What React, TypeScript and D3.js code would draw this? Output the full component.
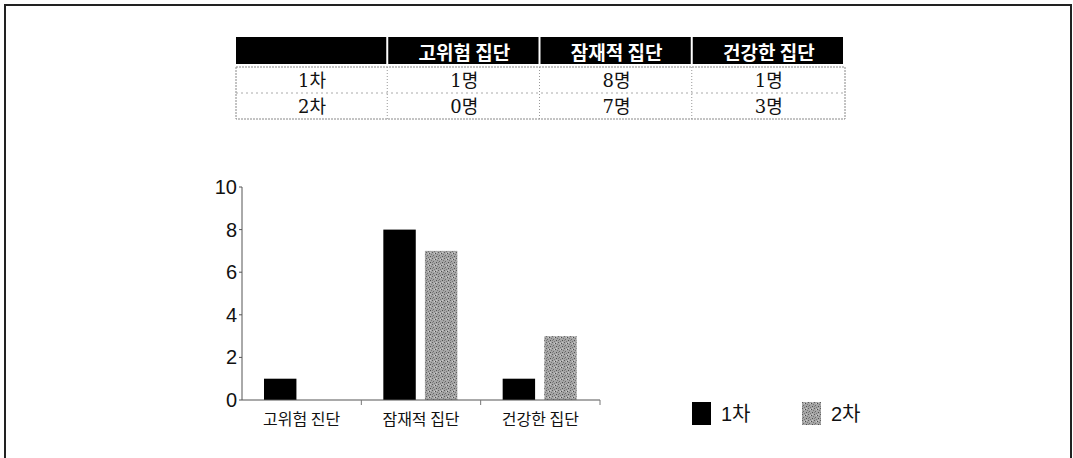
import * as d3 from "d3";

const WIDTH = 1073;
const HEIGHT = 458;

// table
const rowLabels = ["1차", "2차"];
const tableHeaders = ["고위험 집단", "잠재적 집단", "건강한 집단"];
const tableRow1 = ["1명", "8명", "1명"];
const tableRow2 = ["0명", "7명", "3명"];

// chart
const chartCategories = ["고위험 진단", "잠재적 집단", "건강한 집단"];
const seriesNames = ["1차", "2차"];
const round1 = [1, 8, 1];
const round2 = [0, 7, 3];
const yTicks = [0, 2, 4, 6, 8, 10];

const SANS = "'Noto Sans CJK KR', 'Noto Sans', sans-serif";
const NARROW = "'Liberation Sans Narrow', 'Liberation Sans', 'Noto Sans CJK KR', sans-serif";
const SERIF = "'DejaVu Serif', 'Liberation Serif', 'Noto Sans CJK KR', serif";

function Table() {
  const cols = d3.scaleBand<string>().domain(["", ...tableHeaders]).range([236, 845]);
  const rows = d3.scaleBand<string>().domain(rowLabels).range([67, 119]);
  const bodyRows = [
    [rowLabels[0], ...tableRow1],
    [rowLabels[1], ...tableRow2],
  ];
  const allCols = cols.domain();

  return (
    <g>
      {allCols.map((c) => (
        <g key={"h" + c}>
          <rect x={cols(c)!} y={37} width={cols.bandwidth() - 2} height={27} fill="#000" />
          <text
            x={cols(c)! + cols.bandwidth() / 2}
            y={51}
            fill="#fff"
            fontFamily={SANS}
            fontWeight="bold"
            fontSize={19}
            textAnchor="middle"
            dominantBaseline="central"
          >
            {c}
          </text>
        </g>
      ))}
      <rect x={236} y={67} width={609} height={52} fill="none" stroke="#888" strokeWidth={1} strokeDasharray="2,1" />
      <line x1={236} x2={845} y1={93} y2={93} stroke="#aaa" strokeDasharray="2,3" />
      {allCols.slice(1).map((c) => (
        <line key={"v" + c} x1={cols(c)! - 1} x2={cols(c)! - 1} y1={67} y2={119} stroke="#999" strokeDasharray="1,2" />
      ))}
      {bodyRows.map((r, ri) =>
        r.map((v, ci) => (
          <text
            key={ri + "-" + ci}
            x={cols(allCols[ci])! + cols.bandwidth() / 2}
            y={rows(rowLabels[ri])! + rows.bandwidth() / 2}
            fontFamily={SERIF}
            fontSize={18}
            textAnchor="middle"
            dominantBaseline="central"
            fill="#111"
          >
            {v}
          </text>
        ))
      )}
    </g>
  );
}

function BarChart() {
  const x = d3.scaleBand<string>().domain(chartCategories).range([242, 600]);
  const x1 = d3.scaleBand<string>().domain(seriesNames).range([22, 96]).paddingInner(0.22);
  const y = d3.scaleLinear().domain([0, 10]).range([400, 187]);
  const values = [round1, round2];
  const fills = ["#000", "url(#stipple)"];
  const [x0, xEnd] = x.range();

  return (
    <g>
      <defs>
        <pattern id="stipple" width={6} height={6} patternUnits="userSpaceOnUse">
          <rect width={6} height={6} fill="#a6a6a6" />
          <rect x={0} y={0} width={1} height={1} fill="#5e5e5e" />
          <rect x={3} y={1} width={1} height={1} fill="#4a4a4a" />
          <rect x={1} y={3} width={1} height={1} fill="#6a6a6a" />
          <rect x={4} y={4} width={1} height={1} fill="#505050" />
          <rect x={2} y={5} width={1} height={1} fill="#777" />
          <rect x={5} y={2} width={1} height={1} fill="#777" />
          <rect x={0} y={4} width={1} height={1} fill="#808080" />
          <rect x={2} y={1} width={1} height={1} fill="#d0d0d0" />
          <rect x={4} y={0} width={1} height={1} fill="#c8c8c8" />
        </pattern>
      </defs>

      {/* bars */}
      {chartCategories.map((cat, ci) =>
        seriesNames.map((s, si) => {
          const v = values[si][ci];
          if (v <= 0) return null;
          return (
            <rect
              key={cat + s}
              x={x(cat)! + x1(s)!}
              y={y(v)}
              width={x1.bandwidth()}
              height={y(0) - y(v)}
              fill={fills[si]}
            />
          );
        })
      )}

      {/* y axis */}
      <line x1={x0} x2={x0} y1={y(10)} y2={y(0)} stroke="#555" strokeWidth={1} />
      {yTicks.map((t) => (
        <g key={t}>
          <line x1={x0 - 3} x2={x0} y1={y(t)} y2={y(t)} stroke="#555" />
          <text
            x={x0 - 5}
            y={y(t)}
            fontFamily={NARROW}
            fontSize={20}
            textAnchor="end"
            dominantBaseline="central"
            fill="#111"
          >
            {t}
          </text>
        </g>
      ))}

      {/* x axis */}
      <line x1={x0} x2={xEnd} y1={y(0)} y2={y(0)} stroke="#555" strokeWidth={1} />
      {chartCategories.slice(1).map((cat) => (
        <line key={"t" + cat} x1={x(cat)!} x2={x(cat)!} y1={y(0)} y2={y(0) + 5} stroke="#777" />
      ))}
      <line x1={xEnd} x2={xEnd} y1={y(0)} y2={y(0) + 5} stroke="#777" />
      {chartCategories.map((cat) => (
        <text
          key={"l" + cat}
          x={x(cat)! + x.bandwidth() / 2}
          y={y(0) + 18}
          fontFamily={SANS}
          fontSize={16}
          textAnchor="middle"
          dominantBaseline="central"
          fill="#111"
        >
          {cat}
        </text>
      ))}

      {/* legend */}
      {seriesNames.map((s, i) => (
        <g key={"lg" + s} transform={`translate(${692 + i * 110}, 402)`}>
          <rect width={19} height={23} fill={fills[i]} />
          <text
            x={29}
            y={12}
            fontFamily={NARROW}
            fontSize={20}
            dominantBaseline="central"
            fill="#111"
          >
            {s}
          </text>
        </g>
      ))}
    </g>
  );
}

export default function App() {
  return (
    <svg
      width={WIDTH}
      height={HEIGHT}
      style={{ position: "absolute", left: 0, top: 0, background: "#fff" }}
    >
      <path d={`M5,${HEIGHT} V5 H1071 V${HEIGHT}`} fill="none" stroke="#222" strokeWidth={2} />
      <Table />
      <BarChart />
    </svg>
  );
}
